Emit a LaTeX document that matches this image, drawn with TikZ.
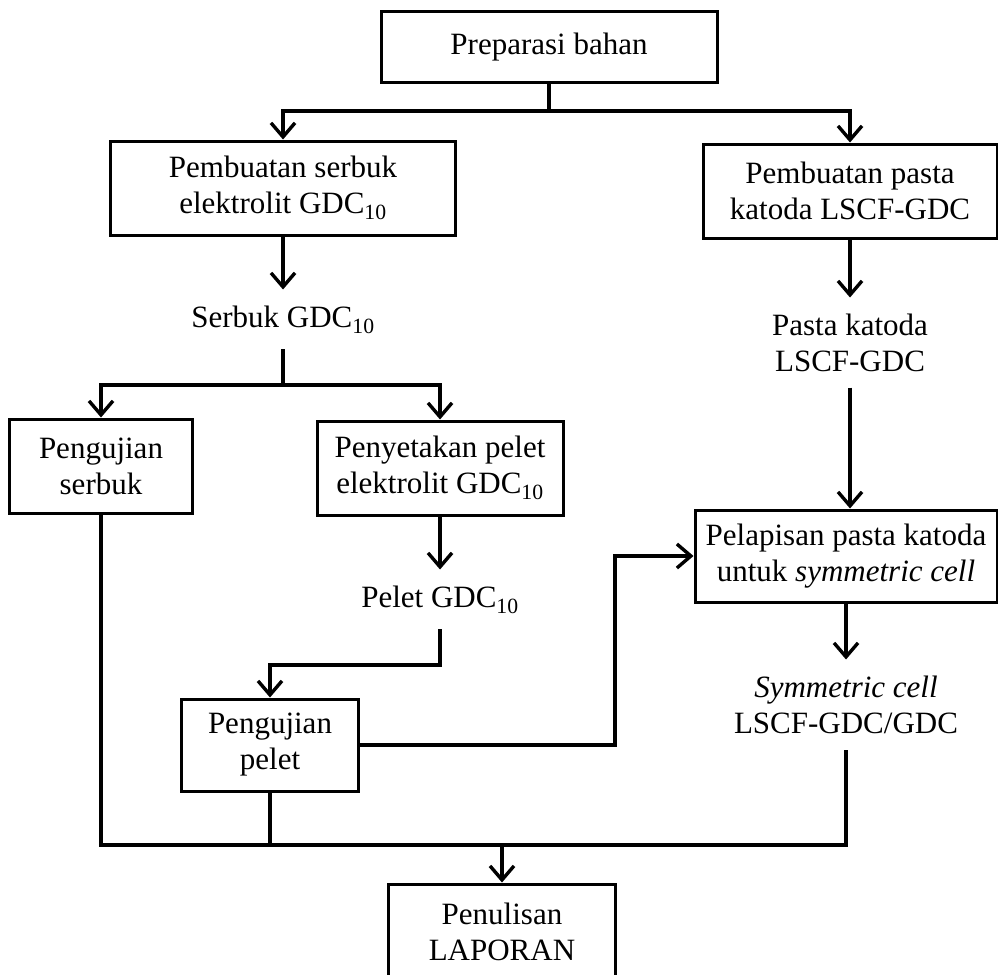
\documentclass[tikz,border=0pt]{standalone}
\usepackage{fontspec}
\setmainfont{Liberation Serif}
\usetikzlibrary{arrows.meta, positioning}

\begin{document}
\begin{tikzpicture}[
  x=1pt, y=-1pt,
  font=\fontsize{31}{36}\selectfont,
  box/.style={rectangle, draw=black, line width=3pt, align=center,
             minimum height=94pt, inner sep=4pt},
  result/.style={align=center, inner sep=16pt},
  line/.style={line width=3.4pt},
  arrow/.style={line, -{Straight Barb[length=14pt, width=24pt]}}
]
\useasboundingbox (0,0) rectangle (998,974);
\clip (0,0) rectangle (998,974);

% boxes
\node[box, minimum width=336pt, minimum height=70pt] (prep) at (549,47) {Preparasi bahan};
\node[box, minimum width=345pt] (pembserbuk) at (283,188) {Pembuatan serbuk\\elektrolit GDC\textsubscript{10}};
\node[box, minimum width=294pt] (pembpasta) at (850,191) {Pembuatan pasta\\katoda LSCF-GDC};
\node[box, minimum width=183pt] (ujiserbuk) at (101,466) {Pengujian\\serbuk};
\node[box, minimum width=246pt] (cetak) at (440,468) {Penyetakan pelet\\elektrolit GDC\textsubscript{10}};
\node[box, minimum width=302pt, minimum height=92pt] (pelapisan) at (846,556) {Pelapisan pasta katoda\\untuk \textit{symmetric cell}};
\node[box, minimum width=177pt, minimum height=92pt] (ujipelet) at (270,745) {Pengujian\\pelet};
\node[box, minimum width=227pt, minimum height=96pt] (laporan) at (502,932) {Penulisan\\LAPORAN};

% intermediate products
\node[result, below=53pt of pembserbuk] (serbuk) {Serbuk GDC\textsubscript{10}};
\node[result, below=58pt of pembpasta] (pasta) {Pasta katoda\\LSCF-GDC};
\node[result, below=53pt of cetak] (pelet) {Pelet GDC\textsubscript{10}};
\node[result, below=56pt of pelapisan] (symcell) {\textit{Symmetric cell}\\LSCF-GDC/GDC};

\coordinate (j1) at (548,111);
\coordinate (j2) at (280,385);
\coordinate (k2) at (443,665);
\coordinate (bend) at (615,556);
\coordinate (bot) at (502,845);

\draw[line] (prep.south) -- (prep.south |- j1);
\draw[arrow] (prep.south |- j1) -| (pembserbuk.north);
\draw[arrow] (prep.south |- j1) -| (pembpasta.north);

\draw[arrow] (pembserbuk) -- (serbuk);
\draw[line] (serbuk.south) -- (serbuk.south |- j2);
\draw[arrow] (serbuk.south |- j2) -| (ujiserbuk.north);
\draw[arrow] (serbuk.south |- j2) -| (cetak.north);

\draw[arrow] (cetak) -- (pelet);
\draw[arrow] (pelet.south) -- (pelet.south |- k2) -| (ujipelet.north);
\draw[arrow] (ujipelet.east) -| (bend) -- (pelapisan.west);

\draw[arrow] (pembpasta) -- (pasta);
\draw[arrow] (pasta.south) -- (pasta.south |- pelapisan.north);
\draw[arrow] (pelapisan) -- (symcell);

\draw[line] (ujiserbuk.south) |- (symcell.south |- bot) -- (symcell.south);
\draw[line] (ujipelet.south) -- (ujipelet.south |- bot);
\draw[arrow] (bot) -- (laporan.north);

\end{tikzpicture}
\end{document}
